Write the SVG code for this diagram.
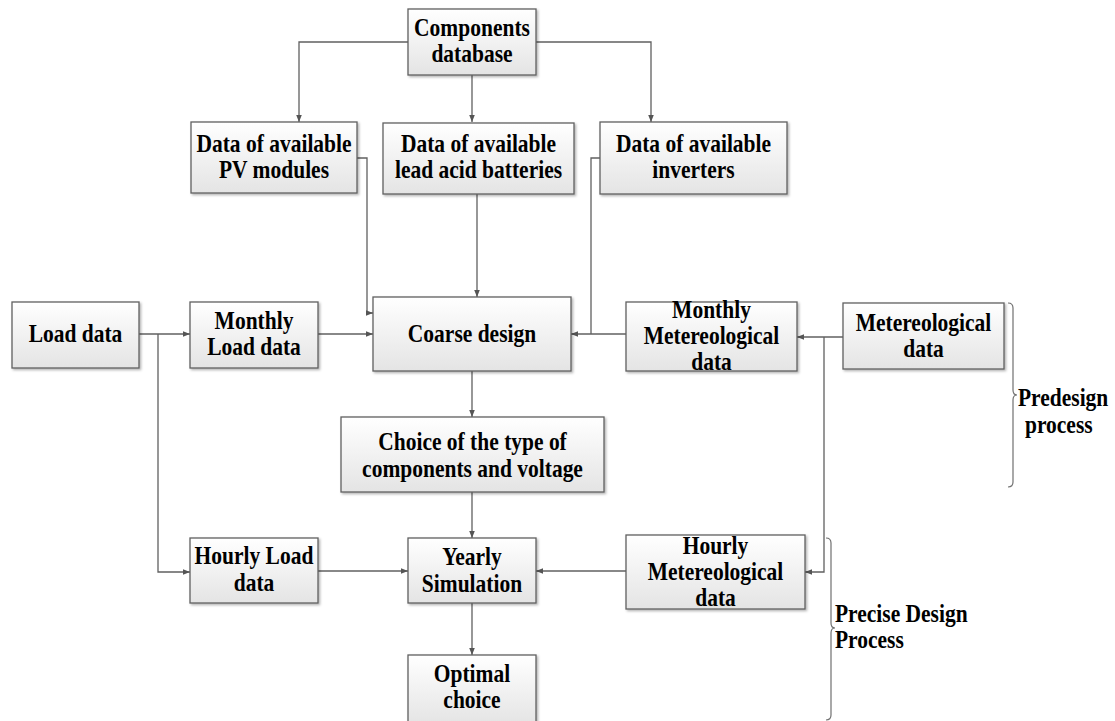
<svg xmlns="http://www.w3.org/2000/svg" width="1115" height="721" viewBox="0 0 1115 721">
<defs>
<linearGradient id="g" x1="0" y1="0" x2="0" y2="1">
<stop offset="0" stop-color="#ffffff"/>
<stop offset="1" stop-color="#e4e4e4"/>
</linearGradient>
<filter id="sh" x="-5%" y="-5%" width="115%" height="120%">
<feDropShadow dx="1.5" dy="1.5" stdDeviation="0.8" flood-color="#000" flood-opacity="0.3"/>
</filter>
<marker id="ah" viewBox="0 0 10 10" refX="10" refY="5" markerWidth="7" markerHeight="7" markerUnits="userSpaceOnUse" orient="auto">
<path d="M0,1 L10,5 L0,9 z" fill="#555"/>
</marker>
<style>
.box{fill:url(#g);stroke:#606060;stroke-width:1.3;filter:url(#sh)}
.t{font-family:"Liberation Serif","Times New Roman",serif;font-weight:bold;font-size:25px;fill:#000;text-anchor:middle}
.l{font-family:"Liberation Serif","Times New Roman",serif;font-weight:bold;font-size:25px;fill:#000}
.c{fill:none;stroke:#606060;stroke-width:1.3}
.a{marker-end:url(#ah)}
.br{fill:none;stroke:#707070;stroke-width:1.2}
</style>
</defs>
<rect width="1115" height="721" fill="#fff"/>

<g id="connectors">
<path class="c a" d="M408,42 H299 V122"/>
<path class="c a" d="M472,75 V122"/>
<path class="c a" d="M536,42 H651 V122"/>
<path class="c a" d="M357,158 H367 V313 H373"/>
<path class="c a" d="M477,194 V297"/>
<path class="c" d="M600,158 H591 V334"/>
<path class="c a" d="M139,334 H190"/>
<path class="c a" d="M158,334 V572 H190"/>
<path class="c a" d="M318,334 H373"/>
<path class="c a" d="M626,334 H571"/>
<path class="c a" d="M843,337 H797"/>
<path class="c a" d="M824,337 V572 H805"/>
<path class="c a" d="M472,371 V417"/>
<path class="c a" d="M472,492 V538"/>
<path class="c a" d="M318,571 H408"/>
<path class="c a" d="M626,571 H536"/>
<path class="c a" d="M472,603 V655"/>
</g>

<g id="components-db">
<rect class="box" x="408" y="9" width="128" height="66"/>
<text class="t" transform="translate(472,36) scale(0.86,1)">Components</text>
<text class="t" transform="translate(472,62) scale(0.86,1)">database</text>
</g>
<g id="pv-modules">
<rect class="box" x="191" y="122" width="166" height="71"/>
<text class="t" transform="translate(274,152) scale(0.86,1)">Data of available</text>
<text class="t" transform="translate(274,178) scale(0.86,1)">PV modules</text>
</g>
<g id="batteries">
<rect class="box" x="383" y="123" width="191" height="71"/>
<text class="t" transform="translate(478.5,152) scale(0.86,1)">Data of available</text>
<text class="t" transform="translate(478.5,178) scale(0.86,1)">lead acid batteries</text>
</g>
<g id="inverters">
<rect class="box" x="600" y="122" width="187" height="72"/>
<text class="t" transform="translate(693.5,152) scale(0.86,1)">Data of available</text>
<text class="t" transform="translate(693.5,178) scale(0.86,1)">inverters</text>
</g>
<g id="load-data">
<rect class="box" x="12" y="302" width="127" height="66"/>
<text class="t" transform="translate(75.5,342) scale(0.86,1)">Load data</text>
</g>
<g id="monthly-load">
<rect class="box" x="190" y="302" width="128" height="66"/>
<text class="t" transform="translate(254,329) scale(0.86,1)">Monthly</text>
<text class="t" transform="translate(254,355) scale(0.86,1)">Load data</text>
</g>
<g id="coarse-design">
<rect class="box" x="373" y="297" width="198" height="74"/>
<text class="t" transform="translate(472,342) scale(0.86,1)">Coarse design</text>
</g>
<g id="monthly-meteo">
<rect class="box" x="626" y="302" width="171" height="69"/>
<text class="t" transform="translate(711.5,318) scale(0.86,1)">Monthly</text>
<text class="t" transform="translate(711.5,344) scale(0.86,1)">Metereological</text>
<text class="t" transform="translate(711.5,370) scale(0.86,1)">data</text>
</g>
<g id="meteo-data">
<rect class="box" x="843" y="303" width="161" height="66"/>
<text class="t" transform="translate(923.5,331) scale(0.86,1)">Metereological</text>
<text class="t" transform="translate(923.5,357) scale(0.86,1)">data</text>
</g>
<g id="choice">
<rect class="box" x="341" y="417" width="263" height="75"/>
<text class="t" transform="translate(472.5,450) scale(0.86,1)">Choice of the type of</text>
<text class="t" transform="translate(472.5,477) scale(0.86,1)">components and voltage</text>
</g>
<g id="hourly-load">
<rect class="box" x="190" y="538" width="128" height="65"/>
<text class="t" transform="translate(254,564) scale(0.86,1)">Hourly Load</text>
<text class="t" transform="translate(254,591) scale(0.86,1)">data</text>
</g>
<g id="yearly-sim">
<rect class="box" x="408" y="538" width="128" height="65"/>
<text class="t" transform="translate(472,565) scale(0.86,1)">Yearly</text>
<text class="t" transform="translate(472,592) scale(0.86,1)">Simulation</text>
</g>
<g id="hourly-meteo">
<rect class="box" x="626" y="535" width="179" height="74"/>
<text class="t" transform="translate(715.5,554) scale(0.86,1)">Hourly</text>
<text class="t" transform="translate(715.5,580) scale(0.86,1)">Metereological</text>
<text class="t" transform="translate(715.5,606) scale(0.86,1)">data</text>
</g>
<g id="optimal">
<rect class="box" x="408" y="655" width="128" height="70"/>
<text class="t" transform="translate(472,682) scale(0.86,1)">Optimal</text>
<text class="t" transform="translate(472,708) scale(0.86,1)">choice</text>
</g>

<g id="predesign">
<path class="br" d="M1008,303 Q1013,303 1013,308 V390 Q1013,395 1017,395 Q1013,395 1013,400 V482 Q1013,487 1008,487"/>
<text class="l" transform="translate(1018,406) scale(0.86,1)">Predesign</text>
<text class="l" transform="translate(1025,433) scale(0.86,1)">process</text>
</g>
<g id="precise">
<path class="br" d="M826,538 Q831,538 831,543 V623 Q831,628 835,628 Q831,628 831,633 V715 Q831,720 826,720"/>
<text class="l" transform="translate(835,622) scale(0.86,1)">Precise Design</text>
<text class="l" transform="translate(835,648) scale(0.86,1)">Process</text>
</g>
</svg>
